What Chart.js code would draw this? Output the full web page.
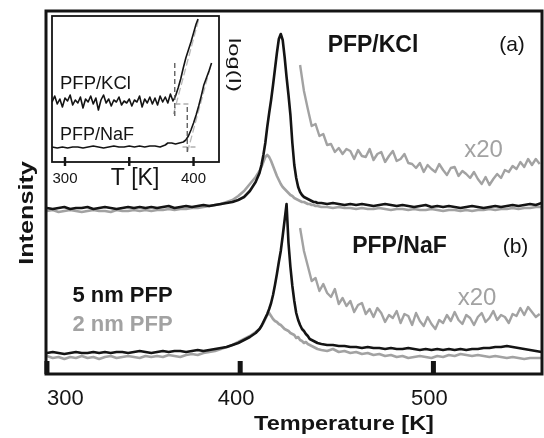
<!DOCTYPE html>
<html lang="en">
<head>
<meta charset="UTF-8">
<title>PFP desorption spectra</title>
<script src="https://cdn.jsdelivr.net/npm/chart.js"></script>
<style>
  body { margin: 0; background: #fff; }
  .wrap { position: relative; width: 544px; height: 438px; }
  .wrap canvas { position: absolute; left: 0; top: 0; }
</style>
</head>
<body>
<div class="wrap">
  <canvas id="mainChart" width="544" height="438"></canvas>
  <canvas id="insetChart" width="544" height="438"></canvas>
</div>
<script>
// temperature grid shared by the four main spectra (K)
const tempK = [
  300, 303, 306, 309, 312, 315, 318, 321, 324, 327, 330, 333, 336, 339, 342, 345, 348, 351, 354,
  357, 360, 363, 366, 369, 372, 375, 378, 381, 384, 387, 390, 393, 396, 399, 402, 405, 408,
  410, 411, 412, 413, 414, 415, 416, 417, 418, 419, 420, 421, 422, 423, 424, 425, 426, 427, 428,
  429, 430, 431, 432, 433, 434, 435, 436, 437, 438, 439, 440,
  442, 445, 448, 451, 454, 457, 460, 463, 466, 469, 472, 475, 478, 481, 484, 487, 490, 493, 496,
  499, 502, 505, 508, 511, 514, 517, 520, 523, 526, 529, 532, 535, 538, 541, 544, 547, 550, 553, 556
];

// (a) PFP/KCl, upper trace (offset intensity, arb. units)
const kcl5nm = [
  167, 166, 167, 168, 166, 167, 167, 168, 166, 167, 168, 167, 166, 167, 168, 167, 168, 167, 168, 167,
  168, 169, 167, 168, 169, 168, 169, 170, 169, 170, 171, 172, 173, 175, 178, 184, 193,
  202, 210, 220, 232, 248, 262, 275, 290, 306, 322, 336, 341, 335, 318, 298, 280, 260, 232, 210,
  197, 188, 183, 180, 178, 177, 176, 175, 174, 173, 173, 172,
  172, 171, 172, 171, 170, 171, 170, 171, 170, 169, 170, 171, 170, 169, 170, 169, 168, 169, 170, 168,
  169, 168, 169, 168, 167, 168, 169, 168, 167, 168, 169, 168, 169, 170, 169, 170, 171, 170, 172
];
const kcl2nm = [
  164, 165, 163, 164, 165, 164, 163, 164, 165, 164, 164, 163, 165, 164, 164, 165, 164, 165, 164, 165,
  165, 166, 165, 166, 166, 167, 167, 168, 169, 170, 171, 173, 175, 179, 184, 191, 198,
  204, 208, 213, 218, 220, 218, 214, 209, 204, 199, 195, 191, 188, 186, 184, 182, 180, 179, 177,
  176, 175, 174, 173, 173, 172, 171, 171, 170, 170, 169, 169,
  168, 168, 167, 168, 167, 167, 166, 167, 166, 166, 167, 166, 165, 166, 166, 165, 166, 165, 165, 166,
  165, 164, 165, 165, 164, 165, 164, 165, 165, 166, 165, 166, 166, 167, 166, 167, 167, 168, 168
];

// (b) PFP/NaF, lower trace
const naf5nm = [
  22, 23, 22, 21, 22, 23, 22, 22, 23, 22, 23, 22, 23, 23, 22, 23, 24, 23, 22, 23,
  24, 23, 24, 24, 23, 24, 25, 24, 25, 26, 27, 28, 30, 32, 35, 38, 42,
  46, 49, 53, 57, 61, 66, 72, 80, 90, 101, 113, 124, 139, 155, 171, 132, 108, 89, 74,
  62, 55, 50, 46, 44, 41, 39, 36, 35, 34, 33, 32,
  31, 30, 30, 29, 29, 28, 28, 27, 28, 27, 27, 26, 27, 26, 26, 27, 26, 25, 26, 25,
  26, 25, 26, 25, 26, 25, 26, 26, 27, 27, 28, 28, 29, 28, 27, 26, 25, 24, 23
];
const naf2nm = [
  19, 17, 18, 16, 18, 17, 19, 17, 18, 16, 18, 19, 17, 18, 19, 18, 17, 19, 18, 19,
  18, 20, 19, 18, 20, 21, 20, 22, 23, 24, 26, 28, 30, 33, 36, 39, 43,
  46, 49, 52, 56, 60, 62, 59, 56, 54, 53, 51, 50, 48, 46, 45, 44, 42, 41, 40,
  37, 38, 35, 34, 32, 33, 31, 30, 29, 28, 27, 26,
  25, 24, 26, 23, 24, 22, 23, 21, 22, 20, 21, 19, 20, 18, 19, 17, 18, 19, 18, 17,
  19, 18, 20, 19, 21, 20, 19, 20, 19, 18, 19, 18, 17, 18, 17, 16, 17, 17, 17
];

// x20 magnified tails of the 2 nm spectra
const tailK = [
  431, 433, 435, 437, 439, 441, 443, 445, 447, 449, 451, 453, 455, 457, 459, 461, 463, 465, 467, 469,
  471, 473, 475, 477, 479, 481, 483, 485, 487, 489, 491, 493, 495, 497, 499, 501, 503, 505, 507, 509,
  511, 513, 515, 517, 519, 521, 523, 525, 527, 529, 531, 533, 535, 537, 539, 541, 543, 545, 547, 549,
  551, 553, 555
];
const kclTail20 = [
  310, 284, 266, 249, 251, 239, 241, 230, 231, 223, 227, 221, 226, 224, 216, 225, 219, 218, 226, 215,
  221, 223, 213, 219, 224, 214, 216, 221, 212, 211, 207, 212, 203, 210, 206, 203, 211, 205, 200, 207,
  208, 199, 204, 201, 197, 203, 196, 191, 198, 190, 196, 201, 197, 205, 203, 209, 206, 213, 208, 216,
  210, 216, 211
];
const nafTail20 = [
  147, 124, 109, 94, 97, 84, 91, 82, 78, 86, 71, 77, 69, 74, 63, 70, 72, 61, 66, 58,
  67, 62, 53, 60, 57, 64, 52, 61, 59, 50, 62, 54, 49, 58, 51, 46, 55, 52, 60, 54,
  63, 55, 51, 60, 57, 50, 58, 62, 53, 57, 64, 55, 60, 58, 52, 61, 59, 67, 60, 68,
  63, 58, 61
];

// inset: log(I) onset region, [T, logI] pairs
const insetKcl = [
  [290, 60], [292, 66], [294, 58], [296, 63], [298, 55], [300, 64], [302, 61], [304, 67], [306, 57],
  [308, 62], [310, 59], [312, 65], [314, 54], [316, 63], [318, 60], [320, 66], [322, 58], [324, 64],
  [326, 52], [328, 62], [330, 67], [332, 59], [334, 63], [336, 56], [338, 62], [340, 60], [342, 65],
  [344, 57], [346, 61], [348, 59], [350, 63], [352, 56], [354, 62], [356, 60], [358, 66], [360, 55],
  [362, 63], [364, 59], [366, 65], [368, 58], [370, 64], [372, 57], [374, 66], [376, 60], [378, 65],
  [380, 59], [382, 68], [384, 61], [386, 66], [388, 74], [390, 83], [392, 94], [394, 104], [396, 112],
  [398, 120], [400, 129], [402, 138], [403.5, 143]
];
const insetNaf = [
  [290, 15], [294, 14], [298, 15], [302, 14], [306, 15], [310, 15], [314, 14], [318, 15], [322, 16],
  [326, 15], [330, 14], [334, 15], [338, 16], [342, 15], [346, 15], [350, 16], [354, 15], [358, 16],
  [362, 15], [366, 16], [370, 16], [374, 15], [378, 17], [380, 19], [383, 19], [386, 18], [389, 19],
  [392, 20], [394, 22], [396, 26], [398, 32], [400, 39], [402, 47], [404, 56], [406, 66], [408, 77],
  [410, 84], [412, 91], [414, 99]
];
// onset construction lines: baseline, linear fit, onset marker
const kclBase = [[385.9, 58], [397.7, 58]];
const kclFit = [[384.4, 48], [403.9, 142]];
const kclOnset = [[385.4, 46], [385.4, 100]];
const nafBase = [[391.4, 15], [403.1, 15]];
const nafFit = [[395.3, 10], [413.3, 96]];
const nafOnset = [[395.1, 10], [395.1, 58]];

const mainTicks = [300, 400, 500];
const insetTicks = [300, 350, 400];
const insetTickLabels = [300, 400];

const FONT = '"Liberation Sans", Arial, Helvetica, sans-serif';
const BLACK = '#141414';
const GREY = '#a2a2a2';

const xy = (xs, ys) => ys.map((v, i) => ({ x: xs[i], y: v }));
const pairs = (arr) => arr.map(p => ({ x: p[0], y: p[1] }));

function line(data, color, width, extra) {
  return Object.assign({
    data: data, borderColor: color, borderWidth: width,
    pointRadius: 0, tension: 0, fill: false, borderJoinStyle: 'round'
  }, extra || {});
}

function txt(ctx, s, x, y, o) {
  ctx.save();
  ctx.translate(x, y);
  if (o.rot) ctx.rotate(o.rot);
  ctx.scale(o.sx || 1, 1);
  ctx.font = o.font;
  ctx.fillStyle = o.color || BLACK;
  ctx.textAlign = o.align || 'center';
  ctx.textBaseline = 'alphabetic';
  ctx.fillText(s, 0, 0);
  ctx.restore();
}

const mainDecor = {
  id: 'mainDecor',
  afterDraw(chart) {
    const ctx = chart.ctx, a = chart.chartArea, xs = chart.scales.x;
    ctx.save();
    ctx.strokeStyle = BLACK;
    ctx.lineWidth = 3;
    ctx.strokeRect(a.left, a.top, a.right - a.left, a.bottom - a.top);
    ctx.fillStyle = BLACK;
    mainTicks.forEach(t => {
      const px = xs.getPixelForValue(t);
      ctx.fillRect(px - 2.5, a.bottom - 13, 5, 13);
      if (t === mainTicks[0]) {
        txt(ctx, String(t), px, 405, { font: '22px ' + FONT, align: 'left' });
      } else {
        txt(ctx, String(t), px - 4, 405, { font: '22px ' + FONT });
      }
    });
    ctx.restore();

    txt(ctx, 'Temperature [K]', 344, 430, { font: 'bold 21px ' + FONT, sx: 1.12 });
    txt(ctx, 'Intensity', 32.5, 213, { font: 'bold 21px ' + FONT, sx: 1.2, rot: -Math.PI / 2 });
    txt(ctx, 'log(I)', 228.5, 65, { font: '16px ' + FONT, sx: 1.48, rot: Math.PI / 2 });

    txt(ctx, 'PFP/KCl', 373, 52, { font: 'bold 23px ' + FONT });
    txt(ctx, '(a)', 512, 51, { font: '21px ' + FONT });
    txt(ctx, 'x20', 483.5, 157, { font: '24px ' + FONT, color: GREY });

    txt(ctx, 'PFP/NaF', 399.5, 253, { font: 'bold 23px ' + FONT });
    txt(ctx, '(b)', 515.5, 253, { font: '21px ' + FONT });
    txt(ctx, 'x20', 477, 305, { font: '24px ' + FONT, color: GREY });

    txt(ctx, '5 nm PFP', 122.5, 302, { font: 'bold 22px ' + FONT });
    txt(ctx, '2 nm PFP', 122.5, 331, { font: 'bold 22px ' + FONT, color: GREY });
  }
};

const insetDecor = {
  id: 'insetDecor',
  beforeDatasetsDraw(chart) {
    const ctx = chart.ctx, a = chart.chartArea;
    ctx.save();
    ctx.fillStyle = '#fff';
    ctx.fillRect(a.left, a.top, a.right - a.left, a.bottom - a.top);
    ctx.restore();
  },
  afterDraw(chart) {
    const ctx = chart.ctx, a = chart.chartArea, xs = chart.scales.x;
    ctx.save();
    ctx.strokeStyle = BLACK;
    ctx.lineWidth = 1.8;
    ctx.strokeRect(a.left, a.top, a.right - a.left, a.bottom - a.top);
    ctx.fillStyle = BLACK;
    insetTicks.forEach(t => {
      const px = xs.getPixelForValue(t);
      ctx.fillRect(px - 1.2, a.bottom - 5, 2.4, 9);
    });
    ctx.restore();
    insetTickLabels.forEach(t => {
      txt(ctx, String(t), xs.getPixelForValue(t), 183, { font: '15px ' + FONT });
    });
    txt(ctx, 'T [K]', 135, 185, { font: '23px ' + FONT });
    txt(ctx, 'PFP/KCl', 60, 89, { font: '18.5px ' + FONT, align: 'left' });
    txt(ctx, 'PFP/NaF', 60, 140, { font: '18px ' + FONT, align: 'left' });
  }
};

const common = {
  responsive: false,
  animation: false,
  events: [],
  plugins: { legend: { display: false }, tooltip: { enabled: false } }
};

new Chart(document.getElementById('mainChart'), {
  type: 'line',
  data: {
    datasets: [
      line(xy(tempK, kcl5nm), BLACK, 2.6),
      line(xy(tempK, naf5nm), BLACK, 2.6),
      line(xy(tempK, kcl2nm), GREY, 2.6),
      line(xy(tempK, naf2nm), GREY, 2.6),
      line(xy(tailK, kclTail20), GREY, 2.4),
      line(xy(tailK, nafTail20), GREY, 2.4)
    ]
  },
  options: Object.assign({}, common, {
    layout: { padding: { left: 46, right: 2, top: 11, bottom: 64 } },
    scales: {
      x: { type: 'linear', display: false, min: 299.5, max: 556.2 },
      y: { type: 'linear', display: false, min: 1, max: 364 }
    }
  }),
  plugins: [mainDecor]
});

new Chart(document.getElementById('insetChart'), {
  type: 'line',
  data: {
    datasets: [
      line(pairs(kclOnset), '#555', 1.3, { borderDash: [5, 3] }),
      line(pairs(nafOnset), '#555', 1.3, { borderDash: [5, 3] }),
      line(pairs(insetKcl), BLACK, 1.6),
      line(pairs(insetNaf), BLACK, 1.6),
      line(pairs(kclBase), '#b0b0b0', 1.3, { borderDash: [5, 3] }),
      line(pairs(nafBase), '#b0b0b0', 1.3, { borderDash: [5, 3] }),
      line(pairs(kclFit), '#b8b8b8', 1.3, { borderDash: [7, 3] }),
      line(pairs(nafFit), '#b8b8b8', 1.3, { borderDash: [7, 3] })
    ]
  },
  options: Object.assign({}, common, {
    layout: { padding: { left: 52, right: 325, top: 16, bottom: 276 } },
    scales: {
      x: { type: 'linear', display: false, min: 289.9, max: 419.8 },
      y: { type: 'linear', display: false, min: 0, max: 146 }
    }
  }),
  plugins: [insetDecor]
});
</script>
</body>
</html>
